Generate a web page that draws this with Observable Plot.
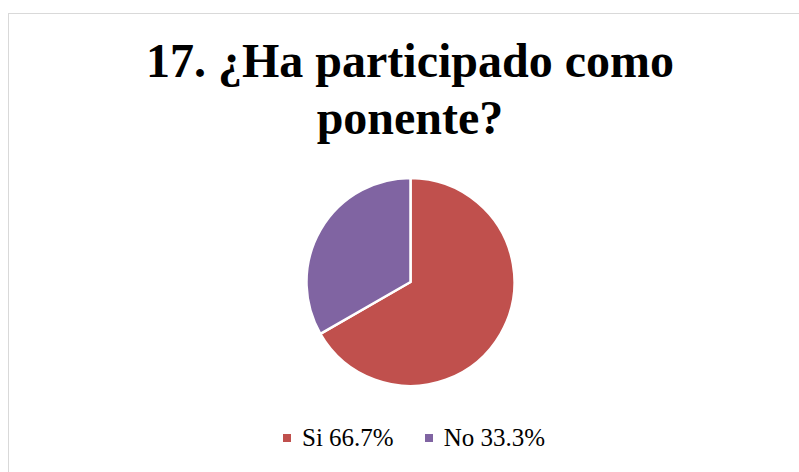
<!DOCTYPE html>
<html>
<head>
<meta charset="utf-8">
<script src="https://cdn.jsdelivr.net/npm/d3@7"></script>
<script src="https://cdn.jsdelivr.net/npm/@observablehq/plot@0.6"></script>
<style>
  html, body { margin: 0; padding: 0; background: #fff; }
  #wrap { position: relative; width: 799px; height: 472px; overflow: hidden; font-family: "Times New Roman", "Liberation Serif", "DejaVu Serif", serif; }
  #border { position: absolute; left: 8px; top: 13px; width: 800px; height: 480px; border: 1px solid #d9d9d9; box-sizing: border-box; }
  #title { position: absolute; left: 0; width: 820px; top: 32px; text-align: center; font-weight: bold; font-size: 48px; line-height: 57px; color: #000; }
  #chart { position: absolute; left: 0; top: 0; }
  #legend { position: absolute; left: 283px; top: 424px; white-space: nowrap; font-size: 25px; color: #000; }
  .item { display: inline-block; }
  .item + .item { margin-left: 31px; }
  .sw { display: inline-block; width: 8px; height: 8px; margin-right: 11px; vertical-align: 4px; }
</style>
</head>
<body>
<div id="wrap">
  <div id="border"></div>
  <div id="chart"></div>
  <div id="title">17. ¿Ha participado como<br>ponente?</div>
  <div id="legend"></div>
</div>
<script>
const categories = ["Si", "No"];
const values = [66.7, 33.3];
const colors = ["#C0504D", "#8064A2"];
const labels = ["Si 66.7%", "No 33.3%"];

const data = categories.map((c, i) => ({category: c, value: values[i]}));
const pie = d3.pie().sort(null).value(d => d.value)(data);

const cx = 410.5, cy = 282, R = 104;

const pieMark = (index, scales) => {
  const x0 = scales.x(0), y0 = scales.y(0);
  const r = scales.x(1) - scales.x(0);
  const arc = d3.arc().innerRadius(0).outerRadius(r);
  const g = d3.create("svg:g").attr("transform", `translate(${x0},${y0})`);
  g.selectAll("path").data(pie).join("path")
    .attr("d", arc)
    .attr("fill", d => scales.color(d.data.category))
    .attr("stroke", "#fff")
    .attr("stroke-width", 2.5)
    .attr("stroke-linejoin", "round");
  return g.node();
};

const chart = Plot.plot({
  width: 799,
  height: 472,
  margin: 0,
  x: {domain: [-1, 1], range: [cx - R, cx + R], axis: null},
  y: {domain: [-1, 1], range: [cy + R, cy - R], axis: null},
  color: {domain: categories, range: colors},
  marks: [
    Plot.dot([[-1, -1], [1, 1]], {x: d => d[0], y: d => d[1], r: 0, fill: categories[0], fillOpacity: 0}),
    pieMark
  ]
});
document.getElementById("chart").appendChild(chart);

const legend = d3.select("#legend");
categories.forEach((c, i) => {
  const it = legend.append("span").attr("class", "item");
  it.append("span").attr("class", "sw").style("background", colors[i]);
  it.append("span").text(labels[i]);
});
</script>
</body>
</html>
